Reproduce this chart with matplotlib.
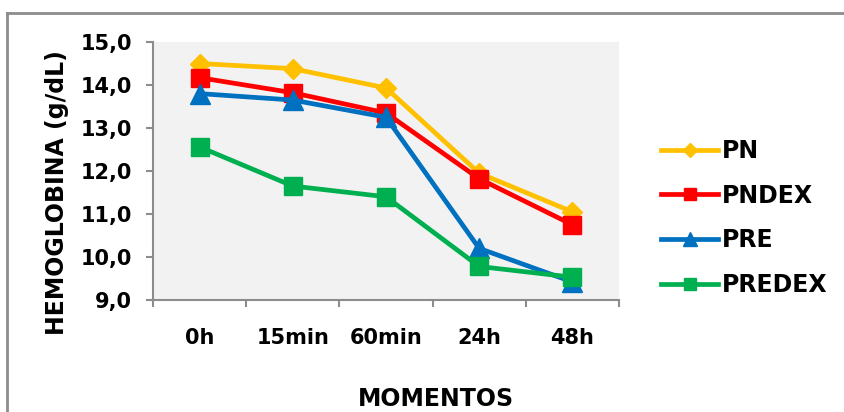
import matplotlib.pyplot as plt
from matplotlib.lines import Line2D
from matplotlib.ticker import FuncFormatter, FixedLocator

# Momentos de coleta e valores médios de hemoglobina (g/dL)
momentos = ['0h', '15min', '60min', '24h', '48h']
pn = [14.50, 14.38, 13.93, 11.95, 11.05]
pndex = [14.17, 13.82, 13.35, 11.82, 10.75]
pre = [13.80, 13.65, 13.25, 10.20, 9.42]
predex = [12.56, 11.65, 11.40, 9.78, 9.53]

plt.rcParams['font.family'] = 'DejaVu Sans'
plt.rcParams['font.weight'] = 'bold'

fig = plt.figure(figsize=(8.44, 4.12), dpi=100)
ax = fig.add_axes([153/844, 1 - 300/412, 466/844, 258/412])
ax.set_facecolor('#F2F2F2')

x = range(len(momentos))
series = [
    ('PN', pn, '#FFC000', 'D', 10.5),
    ('PNDEX', pndex, '#FF0000', 's', 13),
    ('PRE', pre, '#0070C0', '^', 14),
    ('PREDEX', predex, '#00B050', 's', 13),
]
for nome, valores, cor, marcador, tam in series:
    ax.plot(x, valores, color=cor, marker=marcador, markersize=tam, lw=3.4,
            markeredgecolor=cor, markeredgewidth=1, label=nome, clip_on=False)

ax.set_xlim(-0.5, len(momentos) - 0.5)
ax.set_ylim(9, 15)
ax.set_yticks([9, 10, 11, 12, 13, 14, 15])
ax.yaxis.set_major_formatter(FuncFormatter(lambda v, p: f'{v:.1f}'.replace('.', ',')))
ax.set_xticks(list(x))
ax.set_xticklabels(momentos)
ax.xaxis.set_minor_locator(FixedLocator([i - 0.5 for i in range(len(momentos) + 1)]))

for lado in ['top', 'right']:
    ax.spines[lado].set_visible(False)
for lado in ['left', 'bottom']:
    ax.spines[lado].set_color('#8C8C8C')
    ax.spines[lado].set_linewidth(1.5)

ax.tick_params(axis='y', length=5, width=1.5, color='#8C8C8C', pad=10, labelsize=15)
ax.tick_params(axis='x', which='major', length=0, pad=20, labelsize=15)
ax.tick_params(axis='x', which='minor', length=5, width=1.5, color='#8C8C8C')

fig.text(57/844, 1 - 193/412, 'HEMOGLOBINA (g/dL)', rotation=90, ha='center', va='center',
         fontsize=17, fontweight='bold')
fig.text(436/844, 1 - 399/412, 'MOMENTOS', ha='center', va='center',
         fontsize=17, fontweight='bold')

leg = fig.legend(loc='center left', bbox_to_anchor=(640/844, 1 - 218/412), frameon=False,
                 fontsize=17, handlelength=2.4, handletextpad=0.15, labelspacing=0.88,
                 markerscale=0.7)

# moldura cinza do gráfico
fig.add_artist(Line2D([7/844, 7/844], [0, 1 - 12.5/412], color='#8C8C8C', lw=2))
fig.add_artist(Line2D([7/844, 1], [1 - 12.5/412, 1 - 12.5/412], color='#8C8C8C', lw=2))

fig.savefig('out.png', dpi=100)
